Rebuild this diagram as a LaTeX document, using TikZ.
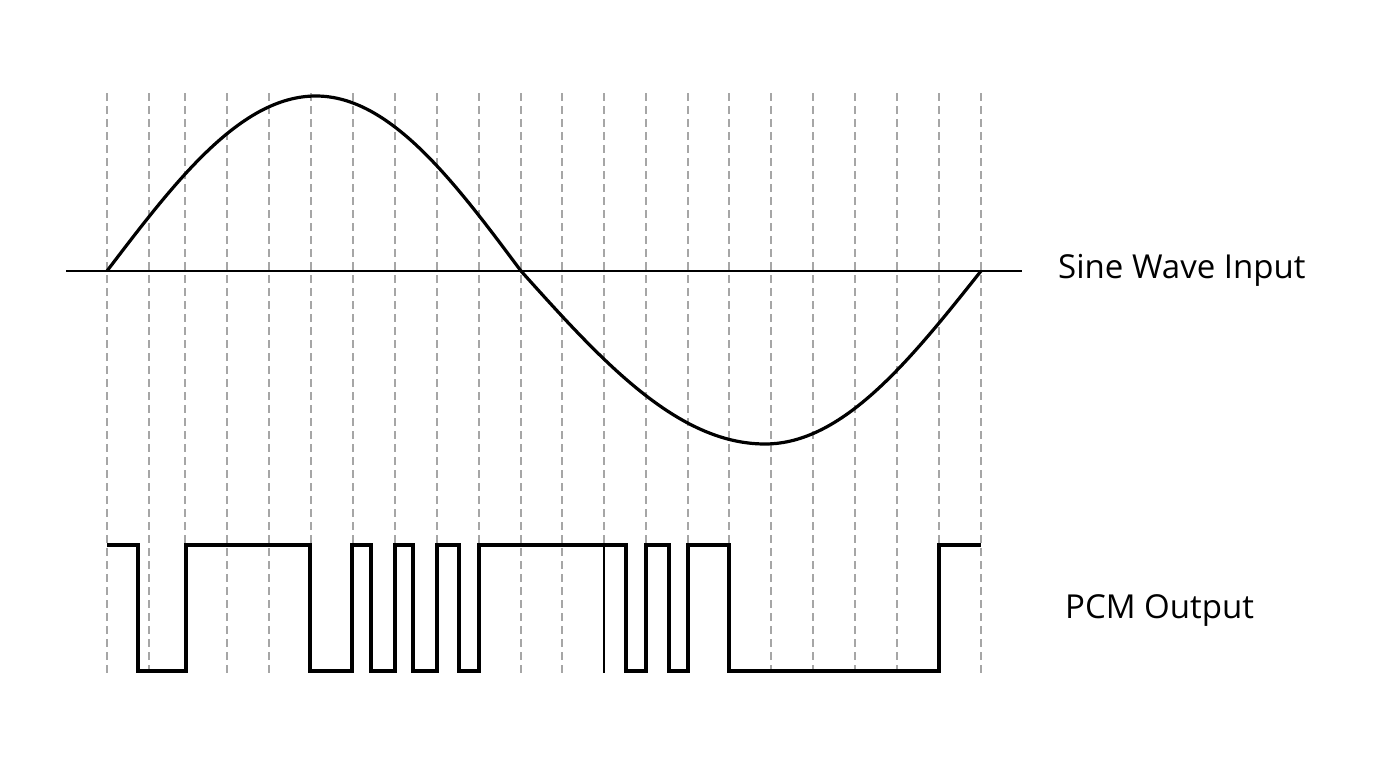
\documentclass[tikz,border=0pt]{standalone}
\usepackage{fontspec}
\setmainfont{Open Sans}
\begin{document}
\begin{tikzpicture}[x=1pt,y=-1pt,
  grid/.style={draw=black!35,line width=1.4pt,dash pattern=on 8pt off 5pt},
  wave/.style={draw=black,line width=3.2pt,line join=round},
  axis/.style={draw=black,line width=2pt},
  pcm/.style={draw=black,line width=3.2pt,line join=miter},
  lbl/.style={font=\fontsize{33}{38}\selectfont,anchor=base west,inner sep=0pt}]
\useasboundingbox (0,0) rectangle (1376,768);
% sampling grid
\foreach \x in {107,149,185,227,269,311,353,395,437,479,521,562,604,646,688,729,771,813,855,897,939,981}
  \draw[grid] (\x,93) -- (\x,673);
% axis
\coordinate (axL) at (66,271);
\coordinate (axR) at (1022,271);
\draw[axis] (axL) -- (axR);
% sine wave
\coordinate (s0) at (107,271);
\coordinate (s1) at (316,96);
\coordinate (s2) at (521,271);
\coordinate (s3) at (765,444);
\coordinate (s4) at (981,271);
\draw[wave] (s0) sin (s1) cos (s2) sin (s3) cos (s4);
% PCM output
\draw[pcm] (107,545) -- (138,545) -- (138,671) -- (186,671) -- (186,545)
  -- (310,545) -- (310,671) -- (352,671) -- (352,545) -- (371,545) -- (371,671)
  -- (395,671) -- (395,545) -- (413,545) -- (413,671) -- (437,671) -- (437,545)
  -- (459,545) -- (459,671) -- (479,671) -- (479,545) -- (626,545) -- (626,671)
  -- (646,671) -- (646,545) -- (669,545) -- (669,671) -- (688,671) -- (688,545)
  -- (729,545) -- (729,671) -- (939,671) -- (939,545) -- (981,545);
\coordinate (g0) at (603.5,545);
\coordinate (g1) at (603.5,673);
\draw[draw=black,line width=2pt] (g0) -- (g1);
% labels
\node[lbl] (sinelbl) at (1058,278) {Sine Wave Input};
\node[lbl] (pcmlbl) at (1065,618) {PCM Output};
\end{tikzpicture}
\end{document}
